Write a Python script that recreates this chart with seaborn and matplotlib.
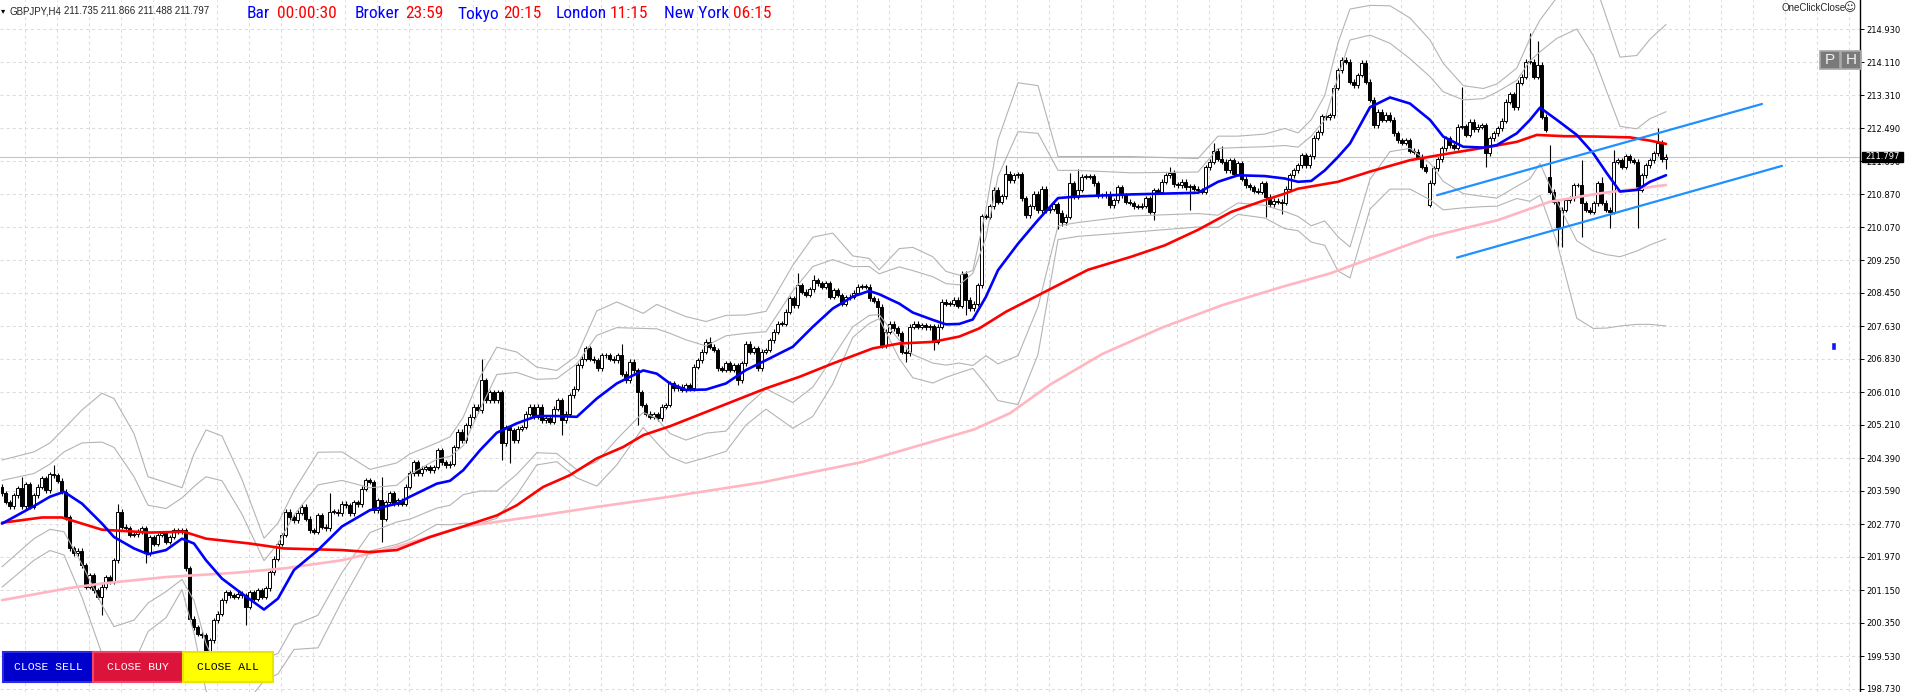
import numpy as np
import pandas as pd
import matplotlib
matplotlib.use("Agg")
import matplotlib.pyplot as plt
import matplotlib.transforms as mtransforms
from matplotlib.patches import Rectangle
from matplotlib import font_manager
import seaborn as sns

# === Candle data (GBPJPY H4), one close per bar ===
closes = [
    203.53, 203.32, 203.22, 203.49, 203.66, 203.22, 203.76, 203.20, 203.49, 203.69,
    203.90, 203.61, 204.00, 203.98, 203.84, 203.57, 202.95, 202.18, 202.06, 202.12,
    201.77, 201.24, 201.52, 201.15, 200.99, 201.24, 201.48, 201.36, 201.89, 203.08,
    202.71, 202.67, 202.51, 202.53, 202.59, 202.67, 202.06, 202.46, 202.30, 202.51,
    202.55, 202.34, 202.46, 202.63, 202.59, 202.63, 201.69, 200.46, 200.25, 200.09,
    200.05, 199.31, 199.93, 200.42, 200.58, 200.91, 201.11, 201.03, 200.99, 201.07,
    201.03, 200.75, 201.11, 200.95, 201.15, 200.99, 201.20, 201.60, 201.93, 202.30,
    202.51, 203.08, 202.94, 202.87, 203.06, 203.20, 202.91, 202.63, 202.59, 203.00,
    202.71, 202.67, 203.08, 203.08, 203.04,
    203.28, 203.24, 203.04, 203.32, 203.26, 203.65, 203.85, 203.81, 203.12, 203.36,
    202.91, 203.32, 203.53, 203.28, 203.36, 203.28, 203.69, 204.02, 204.30, 204.02,
    204.14, 204.18, 204.10, 204.18, 204.59, 204.30, 204.22, 204.26, 204.67, 205.04,
    204.84, 205.20, 205.41, 205.66, 205.57, 206.31, 205.82, 206.02, 205.82, 206.02,
    204.76, 205.16, 205.08, 204.84, 205.12, 205.16, 205.49, 205.66, 205.41, 205.66,
    205.33, 205.37, 205.29, 205.61, 205.82, 205.33, 205.49, 205.94, 206.10, 206.68,
    206.84, 207.09, 206.84, 206.80, 206.60, 206.92, 206.92, 206.84, 206.80, 206.92,
    206.47, 206.31, 206.76, 206.55, 206.02, 205.70, 205.49, 205.41, 205.47, 205.37,
    205.66, 205.70, 206.23,
    206.11, 206.15, 206.08, 206.19, 206.11, 206.64, 206.80, 207.01, 207.25, 207.13,
    207.05, 206.60, 206.56, 206.72, 206.56, 206.68, 206.31, 206.72, 207.21, 207.01,
    207.09, 206.60, 207.01, 207.05, 207.29, 207.50, 207.70, 207.69, 207.99, 208.32,
    208.15, 208.64, 208.48, 208.40, 208.54, 208.77, 208.69, 208.60, 208.69, 208.36,
    208.52, 208.40, 208.19, 208.34, 208.36, 208.46, 208.60, 208.62, 208.60, 208.32,
    208.26, 208.11, 207.17, 207.50, 207.70, 207.58, 207.46, 207.01, 206.97, 207.62,
    207.70, 207.62, 207.66, 207.61, 207.64, 207.25, 207.62, 208.24, 208.19, 208.19,
    208.29, 208.13, 208.92, 208.28, 208.07, 208.19, 208.64, 210.34, 210.32, 210.58,
    210.99, 210.69,
    210.82, 211.38, 211.22, 211.34, 211.36, 210.77, 210.36, 210.58, 210.89, 210.48,
    211.01, 210.48, 210.52, 210.63, 210.42, 210.19, 210.32, 211.15, 210.81, 210.99,
    211.30, 211.30, 211.32, 211.14, 210.85, 210.85, 210.89, 210.60, 210.73, 211.04,
    210.85, 210.69, 210.66, 210.58, 210.56, 210.59, 210.77, 210.44, 210.97, 210.93,
    211.18, 211.34, 211.40, 211.12, 211.09, 211.18, 211.05, 211.07, 211.01, 210.97,
    210.93, 211.54, 211.67, 211.94, 211.75, 211.67, 211.46, 211.71, 211.38, 211.64,
    211.26, 211.09, 211.05, 210.96, 210.93, 211.14, 210.81, 210.63, 210.71, 210.69,
    210.66, 211.01, 211.34, 211.46, 211.59, 211.83, 211.59, 211.81, 212.26, 212.40,
    212.79, 212.76, 212.81, 213.49, 213.92,
    214.18, 214.13, 213.64, 213.55, 213.80, 214.10, 213.64, 213.19, 212.57, 212.90,
    212.70, 212.83, 212.70, 212.37, 212.20, 212.14, 212.20, 211.94, 211.92, 211.79,
    211.55, 211.45, 211.16, 211.51, 211.73, 212.00, 212.25, 212.08, 212.02, 212.53,
    212.55, 212.33, 212.65, 212.47, 212.53, 212.57, 211.88, 212.25, 212.37, 212.49,
    212.68, 213.15, 213.33, 213.01, 213.61, 213.76, 214.13, 214.13, 213.76, 214.05,
    212.78, 212.45, 210.94, 210.69, 210.08, 210.49, 210.73, 210.77, 211.10, 211.10,
    210.65, 210.49, 210.44, 210.65, 211.14, 210.67, 210.49, 210.44, 211.67, 211.71,
    211.55, 211.81, 211.71, 211.67, 210.98, 211.34, 211.59, 211.71, 211.88, 212.14,
    211.735, 211.797,
]
first_open = 203.69
gap_opens = {357: 210.61, 387: 211.30}   # bars that open away from the prior close
high_marks = {5: 203.94, 13: 204.22, 29: 203.27, 82: 203.53, 95: 203.94, 120: 206.84,
              155: 207.21, 177: 207.38, 199: 208.93, 203: 208.89, 240: 209.00, 245: 210.40,
              251: 211.59, 267: 211.40, 269: 211.50, 292: 211.55, 303: 212.13, 305: 212.05,
              365: 213.51, 382: 214.82, 384: 214.64, 387: 212.08, 395: 211.71, 400: 211.30,
              403: 211.95, 414: 212.49, 416: 211.866}
low_marks = {25: 200.54, 36: 201.83, 51: 199.07, 61: 200.30, 95: 202.34, 125: 204.35,
             127: 204.28, 140: 204.96, 159: 205.20, 184: 206.19, 219: 207.87, 226: 206.76,
             233: 207.05, 241: 207.91, 256: 210.28, 264: 210.03, 265: 210.10, 288: 210.24,
             297: 210.48, 316: 210.32, 320: 210.40, 357: 210.55, 371: 211.55, 389: 209.59,
             390: 209.59, 395: 209.83, 402: 210.04, 409: 210.04, 416: 211.488}
wick = 0.06

ma_x = [0, 8, 12, 15.5, 20, 25, 28, 33, 36.5, 41, 45, 48, 51, 55, 60, 65.5, 69, 73, 79, 85,
        92, 98.7, 102, 108.7, 112, 115.3, 119.5, 123.7, 128.7, 133.7, 138.7, 143.7, 148.7, 153.7, 160.3, 163.7, 167,
        171, 176, 181, 186, 191, 197.7, 202.7, 207.7, 212.7, 216.8, 219.3, 224.3, 227.7, 232.7, 236, 239.3, 242.7, 246, 249,
        254, 259, 264, 269, 282.3, 299, 304, 309, 315.7, 320.7, 324, 327.3, 330.7, 334,
        337, 342, 347, 352, 357, 360.3, 365.3, 370.3, 373.7, 378.7, 382, 384.5, 388.7, 393.7, 397.8, 401.2, 404.5, 408.7, 412, 416]
ma_blue = [202.79, 203.22, 203.45, 203.57, 203.28, 202.79, 202.46, 202.18, 202.04, 202.14, 202.42, 202.30, 201.89, 201.44, 201.07, 200.68, 200.95, 201.65, 202.14, 202.72,
           203.12, 203.28, 203.45, 203.77, 203.84, 204.10, 204.59, 205.02, 205.25, 205.43, 205.43, 205.41, 205.86, 206.23, 206.55, 206.47, 206.23,
           206.07, 206.08, 206.23, 206.56, 206.80, 207.13, 207.62, 208.07, 208.36, 208.50, 208.42, 208.19, 207.97, 207.79, 207.68, 207.69, 207.80, 208.36, 209.01,
           209.66, 210.24, 210.78, 210.82, 210.87, 210.91, 211.18, 211.34, 211.32, 211.26, 211.18, 211.20, 211.46, 211.79,
           212.12, 213.01, 213.25, 213.10, 212.70, 212.29, 212.04, 212.02, 212.08, 212.37, 212.70, 213.00, 212.70, 212.33, 211.88, 211.39, 210.94, 210.98, 211.18, 211.34]
band_in = [1.06, 0.80, 0.80, 0.98, 1.49, 2.00, 2.20, 1.76, 1.20, 1.02, 1.00, 1.40, 2.05, 2.40, 1.95, 1.20, 1.35, 1.35, 1.60, 1.13,
           0.55, 0.45, 0.55, 0.60, 0.60, 0.60, 1.00, 1.43, 1.25, 0.90, 0.92, 1.30, 1.55, 1.37, 1.03, 1.10, 1.23,
           1.23, 1.07, 1.17, 0.90, 0.70, 1.37, 1.48, 1.20, 0.74, 0.60, 0.50, 0.90, 1.03, 1.06, 1.00, 0.96, 1.13, 1.45, 2.30,
           2.75, 2.13, 0.68, 0.64, 0.53, 0.51, 0.82, 0.68, 0.72, 0.81, 0.85, 1.10, 1.24, 1.96,
           2.54, 1.77, 1.33, 1.10, 1.06, 1.10, 1.15, 1.20, 1.30, 1.30, 1.45, 1.37, 2.00, 2.60, 2.40, 2.00, 1.60, 1.50, 1.55, 1.56]
band_out = [1.56, 1.33, 1.32, 1.55, 2.30, 3.20, 3.40, 2.82, 1.90, 1.66, 1.25, 2.20, 3.20, 3.50, 2.80, 1.75, 1.85, 1.95, 2.40, 1.83,
            1.00, 1.00, 1.05, 1.00, 1.08, 1.30, 1.80, 2.10, 1.75, 1.20, 1.12, 1.50, 2.15, 2.00, 1.40, 1.70, 1.80,
            1.80, 1.67, 1.67, 1.35, 1.20, 2.00, 2.20, 1.85, 1.00, 0.80, 0.60, 1.35, 1.60, 1.55, 1.30, 1.20, 1.20, 2.15, 3.20,
            3.95, 3.30, 1.02, 0.98, 0.93, 0.84, 1.12, 0.96, 1.03, 1.23, 1.20, 1.50, 1.84, 2.80,
            3.30, 2.50, 2.25, 2.10, 1.96, 1.80, 1.50, 1.45, 1.50, 1.60, 2.00, 2.15, 3.00, 4.50, 4.30, 3.80, 3.30, 3.30, 3.50, 3.70]

red_x = [0, 10, 15, 25, 37, 45.5, 51, 62, 70.5, 85, 92, 98.7, 107, 115, 123.7, 128.7, 135.3, 142, 148.7, 155.3,
         160.3, 167, 191, 199.3, 207.7, 217.7, 224.3, 232.7, 239.3, 244.3, 251, 271.5, 282.3, 290.7, 299, 307.3,
         315.7, 320.7, 324, 334, 342, 352, 362, 372, 378.7, 383.7, 390.3, 398.7, 407, 412, 416]
red_y = [202.81, 202.94, 202.94, 202.64, 202.57, 202.59, 202.42, 202.30, 202.18, 202.14, 202.09, 202.14, 202.46,
         202.71, 202.99, 203.24, 203.69, 203.98, 204.39, 204.67, 204.96, 205.18, 206.11, 206.39, 206.72, 207.09,
         207.21, 207.25, 207.38, 207.58, 207.99, 209.02, 209.34, 209.62, 210.00, 210.44, 210.73, 210.89, 211.01,
         211.18, 211.43, 211.71, 211.88, 212.04, 212.16, 212.33, 212.30, 212.29, 212.27, 212.19, 212.11]
pink_x = [0, 16.3, 25, 41.3, 58, 70.5, 85, 98.7, 115, 132, 148.7, 167, 190, 215, 243, 252, 262, 275, 290, 305,
          320, 332, 357, 374, 387, 399, 416]
pink_y = [200.91, 201.20, 201.32, 201.48, 201.58, 201.69, 201.89, 202.22, 202.71, 202.95, 203.20, 203.45, 203.80,
          204.30, 205.10, 205.50, 206.20, 206.95, 207.60, 208.15, 208.60, 208.93, 209.83, 210.24, 210.69, 210.89, 211.10]

chan_up_x = [358.75, 440]
chan_up_y = [210.85, 213.09]
chan_lo_x = [363.75, 445]
chan_lo_y = [209.32, 211.57]
marker_x = 457.9
marker_y = [207.06, 207.25]

price_ticks = [214.930, 214.110, 213.310, 212.490, 211.690, 210.870, 210.070, 209.250, 208.450, 207.630,
               206.830, 206.010, 205.210, 204.390, 203.590, 202.770, 201.970, 201.150, 200.350, 199.530, 198.730]
last_price = 211.797
ohlc_head = [211.735, 211.866, 211.488, 211.797]
clock_names = ["Bar", "Broker", "Tokyo", "London", "New York"]
clock_times = ["00:00:30", "23:59", "20:15", "11:15", "06:15"]
buttons = ["CLOSE SELL", "CLOSE BUY", "CLOSE ALL"]

# === Build OHLC table ===
n = len(closes)
opens = [first_open] + closes[:-1]
for k, v in gap_opens.items():
    opens[k] = v
df = pd.DataFrame({"bar": np.arange(n), "open": opens, "close": closes})
df["top"] = df[["open", "close"]].max(axis=1)
df["bot"] = df[["open", "close"]].min(axis=1)
df["high"] = [high_marks.get(i, t + wick) for i, t in zip(df["bar"], df["top"])]
df["low"] = [low_marks.get(i, b - wick) for i, b in zip(df["bar"], df["bot"])]
df["up"] = df["close"] >= df["open"]

bands = pd.DataFrame({"x": ma_x, "mid": ma_blue, "wi": band_in, "wo": band_out})

# === Plot ===
sns.set_style("white")
plt.rcParams["lines.scale_dashes"] = False
plt.rcParams["font.family"] = ["DejaVu Sans"]

W, H = 1906, 692
fig = plt.figure(figsize=(W / 100, H / 100), dpi=100)
ax = fig.add_axes([0, 0, 1860 / W, 1])
ax.set_xlim(-0.5, 464.5)
ax.set_ylim(198.656, 215.642)


def px(x, y):
    return x / W, 1 - y / H


def has_font(name):
    try:
        font_manager.findfont(font_manager.FontProperties(family=name), fallback_to_default=False)
        return True
    except Exception:
        return False


grid_kw = dict(color="#dcdcdc", lw=0.75, dashes=(2.2, 2.2), zorder=0)
for p in price_ticks:
    ax.axhline(p, **grid_kw)
for k in range(58):
    ax.axvline(5.75 + 8 * k, **grid_kw)
ax.axhline(last_price, color="#c4c4c4", lw=0.8, zorder=0.5)

# bottom buttons (drawn under the candles)
btn_face = ["#0000cd", "#dc143c", "#ffff00"]
btn_edge = ["#2a2ae6", "#f04468", "#e6e600"]
btn_text = ["white", "white", "black"]
mono = ["Liberation Mono", "DejaVu Sans Mono"]
for j, label in enumerate(buttons):
    x0 = 3.3 + 90 * j
    fig.add_artist(Rectangle(px(x0, 682), 90 / W, 30 / H, transform=fig.transFigure,
                             facecolor=btn_face[j], edgecolor=btn_edge[j], lw=1.5, zorder=1))
    fig.text(*px(x0 + 45, 667), label, color=btn_text[j], ha="center", va="center",
             fontsize=8.2, family=mono, zorder=1.1)

# Bollinger style envelopes
gray = "#b4b4b4"
for col in ["wi", "wo"]:
    sns.lineplot(x=bands["x"], y=bands["mid"] + bands[col], ax=ax, color=gray, lw=0.8, zorder=3.4)
    sns.lineplot(x=bands["x"], y=bands["mid"] - bands[col], ax=ax, color=gray, lw=0.8, zorder=3.4)

# candles
ax.vlines(df["bar"], df["low"], df["high"], color="black", lw=0.8, zorder=3)
body_h = (df["top"] - df["bot"]).clip(lower=0.012)
ax.bar(df["bar"], body_h, bottom=df["bot"], width=0.75,
       color=np.where(df["up"], "white", "black"), edgecolor="black", lw=0.7, zorder=3.1)

sns.lineplot(x=pink_x, y=pink_y, ax=ax, color="#ffb6c1", lw=1.9, zorder=3.5)
sns.lineplot(x=red_x, y=red_y, ax=ax, color="#ff0000", lw=1.9, zorder=3.6)
sns.lineplot(x=bands["x"], y=bands["mid"], ax=ax, color="#0000ff", lw=1.9, zorder=3.7)
sns.lineplot(x=chan_up_x, y=chan_up_y, ax=ax, color="#1e90ff", lw=1.6, zorder=3.8)
sns.lineplot(x=chan_lo_x, y=chan_lo_y, ax=ax, color="#1e90ff", lw=1.6, zorder=3.8)
ax.bar([marker_x], [marker_y[1] - marker_y[0]], bottom=[marker_y[0]], width=1.25, color="#1414ff", zorder=3.8)

# price axis on the right
ax.set_xticks([])
ax.yaxis.tick_right()
ax.set_yticks(price_ticks)
ax.set_yticklabels([f"{p:.3f}" for p in price_ticks])
ax.tick_params(axis="y", length=3, width=0.7, pad=1.5, labelsize=6, colors="black")
for s in ["top", "left", "bottom"]:
    ax.spines[s].set_visible(False)
ax.spines["right"].set_color("black")
ax.spines["right"].set_linewidth(1.0)
ax.set_xlabel("")
ax.set_ylabel("")

blend = mtransforms.blended_transform_factory(fig.transFigure, ax.transData)
fig.add_artist(Rectangle((1862 / W, last_price - 0.125), 41 / W, 0.25, transform=blend,
                         facecolor="black", edgecolor="black", zorder=10, clip_on=False))
fig.text(1882.5 / W, last_price, f"{last_price:.3f}", transform=blend, color="white",
         ha="center", va="center", fontsize=6, zorder=11)

# header line
fig.text(*px(1, 11), "\u25be", fontsize=6, va="center", color="black")
fig.text(*px(9, 11), "GBPJPY,H4", fontsize=7, va="center", family=["Liberation Sans", "DejaVu Sans"])
fig.text(*px(64, 11), " ".join(f"{v:.3f}" for v in ohlc_head), fontsize=7,
         va="center", family=["Liberation Sans", "DejaVu Sans"])

clock_font = None
for fam, size in [("Liberation Sans Narrow", 13.5), ("Arial Narrow", 13.5), ("Roboto Condensed", 12.5),
                  ("DejaVu Sans Condensed", 11.0), ("Liberation Sans", 11.5)]:
    if has_font(fam):
        clock_font = (fam, size)
        break
if clock_font is None:
    clock_font = ("DejaVu Sans", 10.5)
name_x = [247, 355, 457, 556, 664]
time_x = [277, 405, 503, 610, 733]
for nm, tm, xn, xt in zip(clock_names, clock_times, name_x, time_x):
    fig.text(*px(xn, 18.5), nm, color="#0000ff", fontsize=clock_font[1], family=[clock_font[0]], va="baseline")
    fig.text(*px(xt, 18.5), tm, color="#ff0000", fontsize=clock_font[1], family=[clock_font[0]], va="baseline")

fig.text(*px(1782, 8), "OneClickClose", fontsize=7, va="center", family=["Liberation Sans", "DejaVu Sans"])
fig.text(*px(1843, 8), "\u263a", fontsize=8.5, va="center")

for j, letter in enumerate(["P", "H"]):
    x0 = 1820 + 21 * j
    fig.add_artist(Rectangle(px(x0, 69), 20 / W, 18 / H, transform=fig.transFigure,
                             facecolor="#7a7a7a", edgecolor="#a8a8a8", lw=1.2, zorder=5))
    fig.text(*px(x0 + 10, 60), letter, color="#f2f2f2", ha="center", va="center",
             fontsize=11, family=["Liberation Sans", "DejaVu Sans"], zorder=6)

fig.savefig("out.png", dpi=100, facecolor="white")
